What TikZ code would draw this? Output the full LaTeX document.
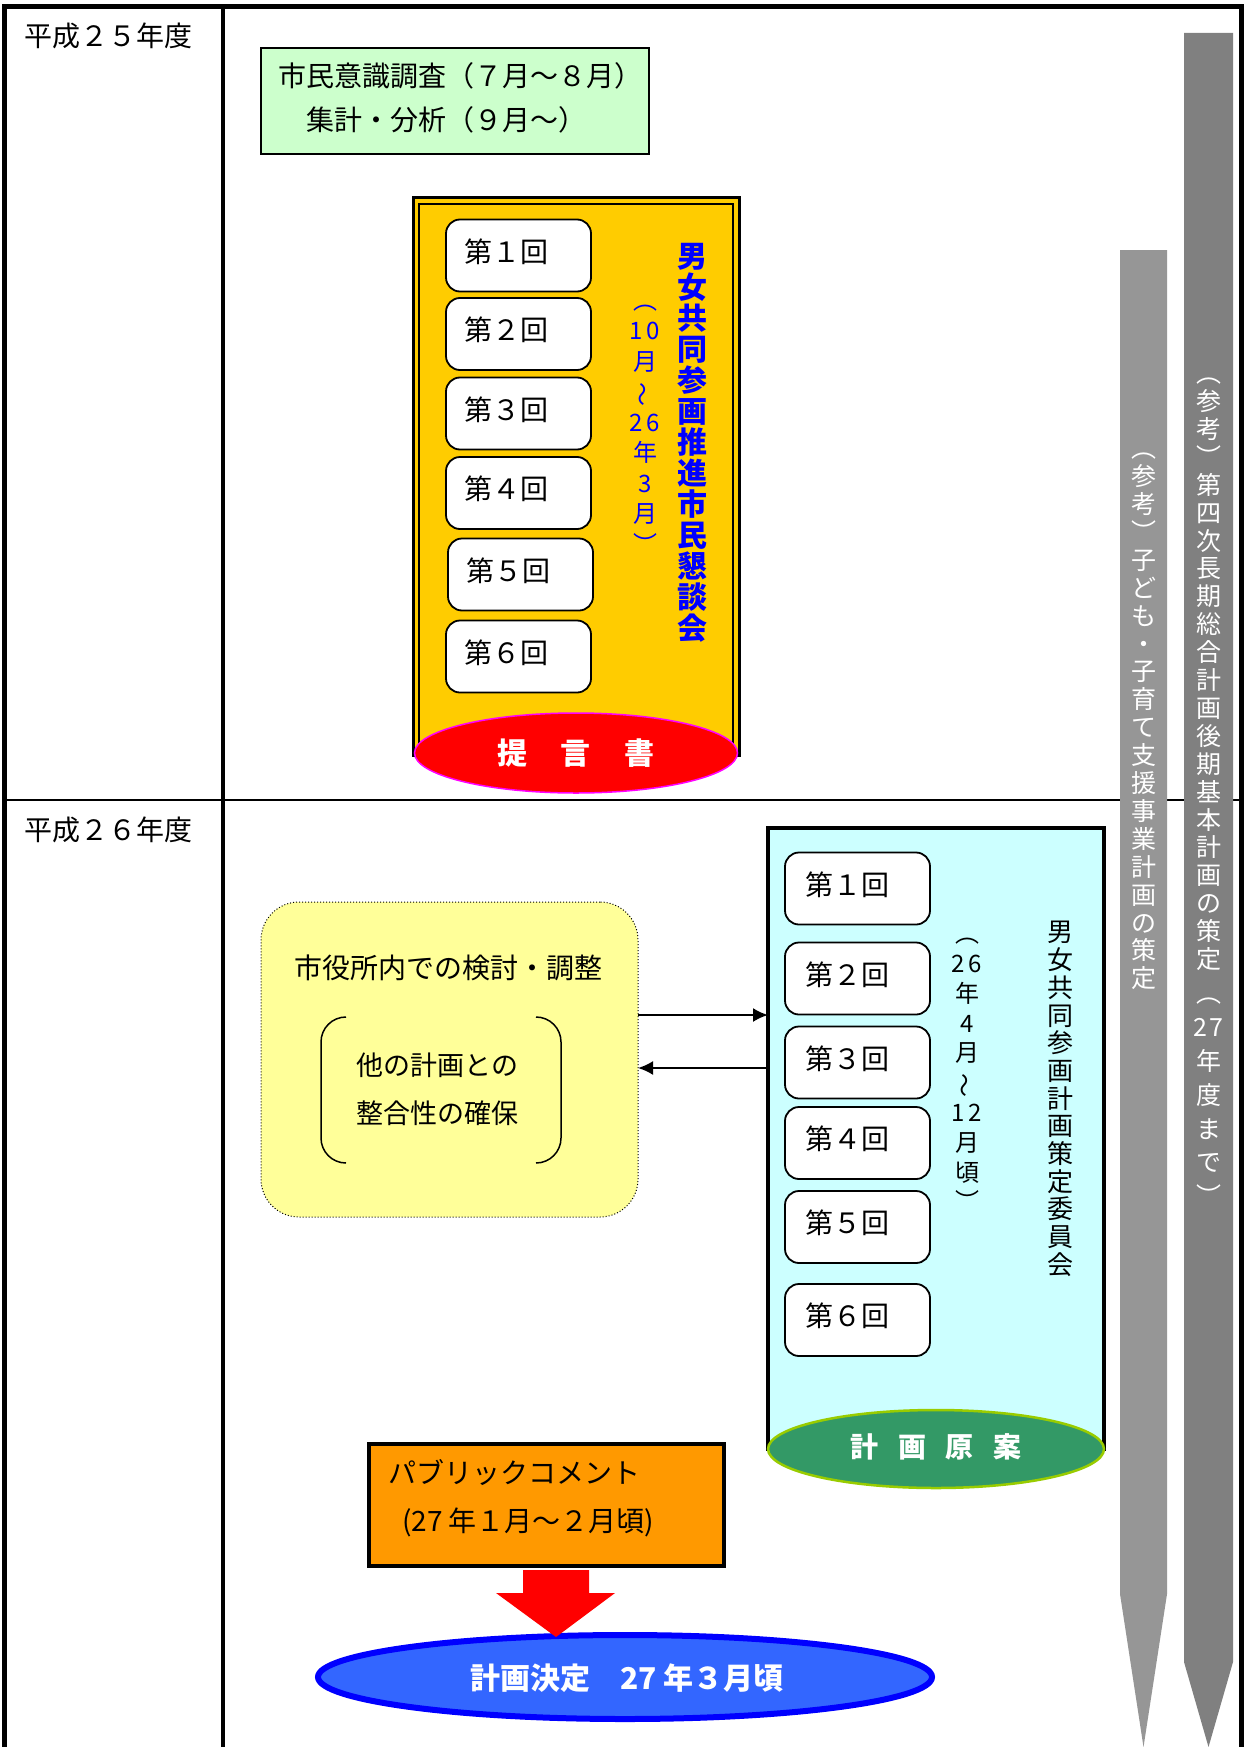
\documentclass[tikz,border=0pt]{standalone}
\usepackage{fontspec}
\usepackage{graphicx}
\setmainfont{Noto Sans CJK JP}
\usetikzlibrary{shapes.geometric,arrows.meta}
\definecolor{greenbox}{HTML}{CCFFCC}
\definecolor{yellowbox}{HTML}{FFCC00}
\definecolor{cyanbox}{HTML}{CCFFFF}
\definecolor{paleyellow}{HTML}{FFFF99}
\definecolor{orangebox}{HTML}{FF9900}
\definecolor{greyA}{HTML}{969696}
\definecolor{greyB}{HTML}{808080}
\definecolor{ellgreen}{HTML}{339966}
\definecolor{ellgreenborder}{HTML}{99CC00}
\definecolor{blueell}{HTML}{3366FF}
\definecolor{blueborder}{HTML}{0000FF}
\definecolor{magentaborder}{HTML}{FF00FF}
\definecolor{titleblue}{HTML}{0000FF}
\newcommand{\vtl}{\smash{\rotatebox[origin=c]{90}{～}}}
\newcommand{\vlp}{︵}
\newcommand{\vrp}{︶}
\tikzset{
  txt/.style={inner sep=0pt, outer sep=0pt, font=\fontsize{28}{30}\selectfont},
  vtxt/.style={inner sep=0pt, outer sep=0pt, align=center},
  kaibox/.style={draw, fill=white, line width=1.8pt, rounded corners=14pt,
    minimum width=145pt, minimum height=72pt, inner sep=0pt},
  kaitxt/.style={txt, anchor=west},
  conn/.style={line width=2pt, -{Latex[length=15pt,width=14pt]}},
}
\begin{document}
\begin{tikzpicture}[x=1pt,y=-1pt]
\useasboundingbox (0,0) rectangle (1245,1747);
\fill[white] (0,0) rectangle (1245,1747);

% horizontal divider
\draw[line width=2pt] (4,800) -- (1241,800);

% grey reference arrows
\fill[greyA] (1120,250) -- (1167,250) -- (1167,1594) -- (1143.5,1747) -- (1120,1594) -- cycle;
\fill[greyB] (1184,33) -- (1233,33) -- (1233,1662) -- (1208.5,1747) -- (1184,1662) -- cycle;
\node[vtxt, text=white, font=\fontsize{25}{27.9}\selectfont] (kodomo) at (1143.5,721.5)
  {\vlp\\参\\考\\\vrp\\子\\ど\\も\\・\\子\\育\\て\\支\\援\\事\\業\\計\\画\\の\\策\\定};
\node[vtxt, text=white, font=\fontsize{25}{27.9}\selectfont, anchor=north] (choki) at (1208.5,378)
  {\vlp\\参\\考\\\vrp\\第\\四\\次\\長\\期\\総\\合\\計\\画\\後\\期\\基\\本\\計\\画\\の\\策\\定\\[6pt]\vlp\\[6pt]2\hspace{2pt}7\\[6pt]年\\[6pt]度\\[6pt]ま\\[6pt]で\\[6pt]\vrp};

% frame
\draw[line width=5pt, line join=miter] (4,1747) -- (4,7) -- (1241,7) -- (1241,1747);
\draw[line width=4pt] (223,7) -- (223,1747);

% year labels
\node[txt, anchor=west] (y25) at (24,36) {平成２５年度};
\node[txt, anchor=west] (y26) at (24,830) {平成２６年度};

% survey box
\node[draw, line width=2pt, fill=greenbox, minimum width=388pt, minimum height=106pt, inner sep=0pt] (survey) at (455,101) {};
\node[txt, anchor=west] (survey1) at (278,76) {市民意識調査（７月～８月）};
\node[txt, anchor=west] (survey2) at (306,120) {集計・分析（９月～）};

% citizen council (yellow)
\node[draw, line width=3pt, fill=yellowbox, minimum width=326pt, minimum height=557pt, inner sep=0pt, outer sep=0pt, anchor=north west] (kondan) at (413,198) {};
\draw[line width=1.2pt] ([xshift=6pt,yshift=-6pt]kondan.north west) rectangle ([xshift=-6pt]kondan.south east);
\node[ellipse, draw=magentaborder, fill=red, line width=1.5pt, minimum width=323pt, minimum height=80pt, inner sep=0pt] (teigen) at (576,753) {};
\node[txt, text=white, font=\bfseries\fontsize{30}{30}\selectfont] (teigentxt) at (teigen.center) {提\hspace{34pt}言\hspace{34pt}書};

\node[kaibox] (ya1) at (518.5,255.5) {};
\node[kaibox] (ya2) at (518.5,334) {};
\node[kaibox] (ya3) at (518.5,413.5) {};
\node[kaibox] (ya4) at (518.5,493) {};
\node[kaibox] (ya5) at (520.5,574.5) {};
\node[kaibox] (ya6) at (518.5,656.5) {};
\node[kaitxt] (ya1t) at ([xshift=19pt,yshift=4pt]ya1.west) {第１回};
\node[kaitxt] (ya2t) at ([xshift=19pt,yshift=4pt]ya2.west) {第２回};
\node[kaitxt] (ya3t) at ([xshift=19pt,yshift=4pt]ya3.west) {第３回};
\node[kaitxt] (ya4t) at ([xshift=19pt,yshift=4pt]ya4.west) {第４回};
\node[kaitxt] (ya5t) at ([xshift=19pt,yshift=4pt]ya5.west) {第５回};
\node[kaitxt] (ya6t) at ([xshift=19pt,yshift=4pt]ya6.west) {第６回};

\node[vtxt, text=titleblue, font=\bfseries\fontsize{30}{31}\selectfont] (kondantitle) at (692,443)
  {男\\女\\共\\同\\参\\画\\推\\進\\市\\民\\懇\\談\\会};
\node[vtxt, text=titleblue, font=\fontsize{24}{30.5}\selectfont] (kondandate) at (645,429)
  {\vlp\\1\hspace{4pt}0\\月\\\vtl\\2\hspace{4pt}6\\年\\3\\月\\\vrp};

% committee (cyan)
\node[draw, line width=3.5pt, fill=cyanbox, minimum width=336pt, minimum height=621pt, inner sep=0pt, outer sep=0pt, anchor=north west] (iinkai) at (768,828) {};
\node[ellipse, draw=ellgreenborder, fill=ellgreen, line width=2.5pt, minimum width=336pt, minimum height=78pt, inner sep=0pt] (genan) at (936,1449) {};
\node[txt, text=white, font=\bfseries\fontsize{28}{28}\selectfont] (genantxt) at (936,1447) {計\hspace{20pt}画\hspace{20pt}原\hspace{20pt}案};

\node[kaibox] (cy1) at (857.5,888.5) {};
\node[kaibox] (cy2) at (857.5,978.5) {};
\node[kaibox] (cy3) at (857.5,1062.5) {};
\node[kaibox] (cy4) at (857.5,1143) {};
\node[kaibox] (cy5) at (857.5,1227) {};
\node[kaibox] (cy6) at (857.5,1320) {};
\node[kaitxt] (cy1t) at ([xshift=21pt,yshift=4pt]cy1.west) {第１回};
\node[kaitxt] (cy2t) at ([xshift=21pt,yshift=4pt]cy2.west) {第２回};
\node[kaitxt] (cy3t) at ([xshift=21pt,yshift=4pt]cy3.west) {第３回};
\node[kaitxt] (cy4t) at ([xshift=21pt,yshift=4pt]cy4.west) {第４回};
\node[kaitxt] (cy5t) at ([xshift=21pt,yshift=4pt]cy5.west) {第５回};
\node[kaitxt] (cy6t) at ([xshift=21pt,yshift=4pt]cy6.west) {第６回};

\node[vtxt, font=\fontsize{24}{29.8}\selectfont] (iinkaidate) at (967,1074.5)
  {\vlp\\2\hspace{4pt}6\\年\\4\\月\\\vtl\\1\hspace{4pt}2\\月\\頃\\\vrp};
\node[vtxt, font=\fontsize{26}{27.7}\selectfont] (iinkaititle) at (1060,1099)
  {男\\女\\共\\同\\参\\画\\計\\画\\策\\定\\委\\員\\会};

% internal review (pale yellow)
\node[draw, dotted, line width=1pt, fill=paleyellow, rounded corners=38pt, minimum width=377pt, minimum height=315pt, inner sep=0pt, outer sep=0pt] (kento) at (449.5,1059.5) {};
\node[txt] (kentot) at (448,968) {市役所内での検討・調整};
\draw[line width=1.5pt, rounded corners=25pt] (346,1017) -- (321,1017) -- (321,1163) -- (346,1163);
\draw[line width=1.5pt, rounded corners=25pt] (536,1017) -- (561,1017) -- (561,1163) -- (536,1163);
\node[txt, font=\fontsize{27}{27}\selectfont] (seigo1) at (437.5,1065) {他の計画との};
\node[txt, font=\fontsize{27}{27}\selectfont] (seigo2) at (437.5,1113) {整合性の確保};

\coordinate (ar1) at (0,1015);
\coordinate (ar2) at (0,1068);
\draw[conn] (kento.east |- ar1) -- (iinkai.west |- ar1);
\draw[conn] (iinkai.west |- ar2) -- (kento.east |- ar2);

% public comment
\node[draw, line width=4pt, fill=orangebox, minimum width=355pt, minimum height=122pt, inner sep=0pt] (pub) at (546.5,1505) {};
\node[txt, anchor=west] (pubt1) at (388,1473) {パブリックコメント};
\node[txt, anchor=west] (pubt2) at (402,1522) {(27 年１月～２月頃)};

% decision
\node[ellipse, draw=blueborder, line width=6pt, fill=blueell, minimum width=614pt, minimum height=84pt, inner sep=0pt] (kettei) at (625,1677) {};
\node[txt, text=white, font=\bfseries\fontsize{30}{30}\selectfont] (ketteit) at (627,1678) {計画決定　27 年３月頃};

% block arrow
\fill[red] (523,1570) -- (589,1570) -- (589,1593) -- (615,1593) -- (556,1637) -- (496,1593) -- (523,1593) -- cycle;
\end{tikzpicture}
\end{document}
